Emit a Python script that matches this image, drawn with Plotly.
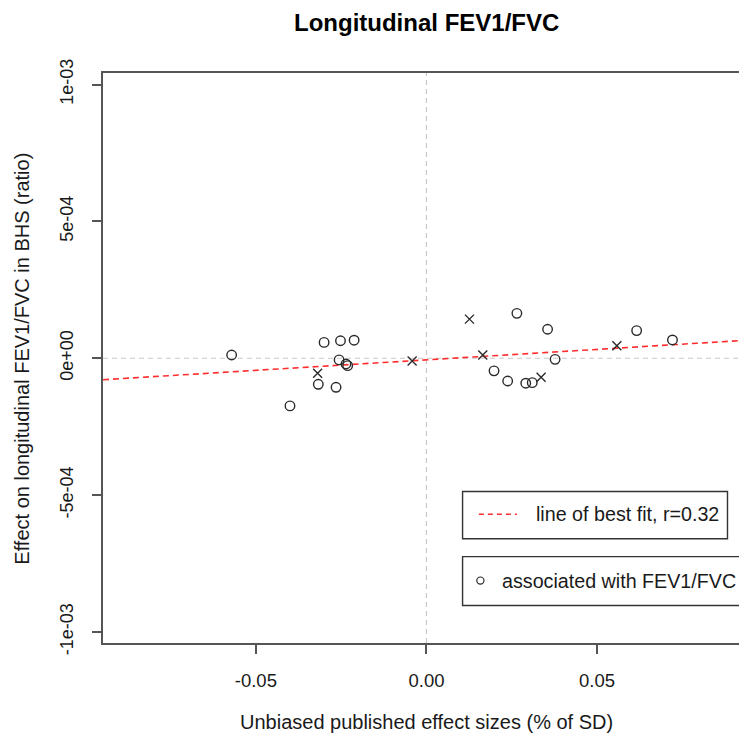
import plotly.graph_objects as go

# ---------------- data ----------------
circle_x = [-0.0571, -0.0400, -0.0300, -0.0252, -0.0212, -0.0256, -0.0236, -0.0231, -0.0317, -0.0265,
            0.0265, 0.0355, 0.0377, 0.0198, 0.0238, 0.0291, 0.0310, 0.0616, 0.0721]
circle_y = [1.2e-5, -1.74e-4, 5.8e-5, 6.4e-5, 6.6e-5, -6e-6, -2.1e-5, -2.7e-5, -9.5e-5, -1.06e-4,
            1.64e-4, 1.06e-4, -4e-6, -4.6e-5, -8.3e-5, -9.1e-5, -8.9e-5, 1.01e-4, 6.7e-5]
cross_x = [-0.0319, -0.0042, 0.0126, 0.0165, 0.0336, 0.0558]
cross_y = [-5.5e-5, -1.0e-5, 1.43e-4, 1.2e-5, -6.9e-5, 4.6e-5]
fit_slope = 7.65e-4
fit_intercept = -5.8e-6
fit_r = 0.32

x_range = [-0.0948, 0.0916]
y_range = [-1.04e-3, 1.042e-3]
x_tickvals = [-0.05, 0.0, 0.05]
x_ticktext = ["-0.05", "0.00", "0.05"]
y_tickvals = [-1e-3, -5e-4, 0.0, 5e-4, 1e-3]
y_ticktext = ["-1e-03", "-5e-04", "0e+00", "5e-04", "1e-03"]

title_text = "Longitudinal FEV1/FVC"
x_title = "Unbiased published effect sizes (% of SD)"
y_title = "Effect on longitudinal FEV1/FVC in BHS (ratio)"
legend_fit = "line of best fit, r=%.2f" % fit_r
legend_circ = "associated with FEV1/FVC"

# ---------------- layout geometry ----------------
W, H = 739, 740
L, R, T, B = 103.3, 739, 72.5, 643.5
FONT = "Liberation Sans, Arial, Helvetica, sans-serif"
INK = "#1a1a1a"


def px(xp):
    return (xp - L) / (R - L)


def py(yp):
    return (B - yp) / (B - T)


fig = go.Figure()

fit_x = list(x_range)
fit_y = [fit_intercept + fit_slope * v for v in fit_x]
fig.add_trace(go.Scatter(x=fit_x, y=fit_y, mode="lines",
                         line=dict(color="rgb(255,45,45)", width=1.6, dash="6px,4px"),
                         hoverinfo="skip", showlegend=False, cliponaxis=True))

fig.add_trace(go.Scatter(x=circle_x, y=circle_y, mode="markers",
                         marker=dict(symbol="circle-open", size=9.5, color="#2a2a2a",
                                     line=dict(width=1.4, color="#2a2a2a")),
                         showlegend=False))
fig.add_trace(go.Scatter(x=cross_x, y=cross_y, mode="markers",
                         marker=dict(symbol="x-thin-open", size=9, color="#2a2a2a",
                                     line=dict(width=1.4, color="#2a2a2a")),
                         showlegend=False))

shapes = [
    # reference lines at zero
    dict(type="line", xref="x", yref="paper", x0=0, x1=0, y0=0, y1=1,
         line=dict(color="#c8c8c8", width=1.2, dash="5px,4px"), layer="below"),
    dict(type="line", xref="paper", yref="y", x0=0, x1=1, y0=0, y1=0,
         line=dict(color="#c8c8c8", width=1.2, dash="5px,4px"), layer="below"),
    # legend boxes
    dict(type="rect", xref="paper", yref="paper", x0=px(462.7), x1=px(727.5),
         y0=py(539), y1=py(491.7), line=dict(color="#333", width=1.4), fillcolor="white"),
    dict(type="rect", xref="paper", yref="paper", x0=px(462.7), x1=px(770),
         y0=py(606), y1=py(557), line=dict(color="#333", width=1.4), fillcolor="white"),
    # legend line sample
    dict(type="line", xref="paper", yref="paper", x0=px(479), x1=px(517),
         y0=py(514.5), y1=py(514.5), line=dict(color="rgb(255,45,45)", width=1.3, dash="5px,4px")),
    # legend circle sample
    dict(type="circle", xref="paper", yref="paper", xsizemode="pixel", ysizemode="pixel",
         xanchor=px(480.5), yanchor=py(581), x0=-3.6, x1=3.6, y0=-3.6, y1=3.6,
         line=dict(color="#2a2a2a", width=1.2)),
]

annotations = [
    dict(text="<b>" + title_text + "</b>", xref="paper", yref="paper", x=px(426.5), y=1,
         yshift=T - 22, xanchor="center", yanchor="middle", showarrow=False,
         font=dict(size=24, color="black", family=FONT)),
    dict(text=x_title, xref="paper", yref="paper", x=px(426.5), y=0, yshift=-(722 - B),
         xanchor="center", yanchor="middle", showarrow=False,
         font=dict(size=20, color=INK, family=FONT)),
    dict(text=y_title, xref="paper", yref="paper", x=0, xshift=-(L - 22), y=py(359),
         xanchor="center", yanchor="middle", textangle=-90, showarrow=False,
         font=dict(size=20, color=INK, family=FONT)),
    dict(text=legend_fit, xref="paper", yref="paper", x=px(534), y=py(514.5),
         xanchor="left", yanchor="middle", showarrow=False,
         font=dict(size=19.7, color=INK, family=FONT)),
    dict(text=legend_circ, xref="paper", yref="paper", x=px(500), y=py(581),
         xanchor="left", yanchor="middle", showarrow=False,
         font=dict(size=19.7, color=INK, family=FONT)),
]

fig.update_layout(
    width=W, height=H,
    margin=dict(l=L, r=W - R, t=T, b=H - B, pad=0),
    paper_bgcolor="white", plot_bgcolor="white",
    font=dict(family=FONT, size=18, color=INK),
    showlegend=False,
    shapes=shapes, annotations=annotations,
    xaxis=dict(range=x_range, tickvals=x_tickvals, ticktext=x_ticktext,
               showgrid=False, zeroline=False, showline=True, mirror=True,
               linecolor="#555", linewidth=2, ticks="outside", ticklen=9, tickwidth=1.5,
               tickcolor="#555", ticklabelstandoff=11,
               tickfont=dict(size=18.5, color=INK, family=FONT)),
    yaxis=dict(range=y_range, tickvals=y_tickvals, ticktext=y_ticktext,
               showgrid=False, zeroline=False, showline=True, mirror=False,
               linecolor="#555", linewidth=2, ticks="outside", ticklen=9, tickwidth=1.5,
               tickcolor="#555", tickangle=-90, ticklabelstandoff=12,
               tickfont=dict(size=18, color=INK, family=FONT)),
)

fig.write_html("out.html", config={"displayModeBar": False},
               post_script="document.body.style.margin='0';document.body.style.overflow='hidden';")
